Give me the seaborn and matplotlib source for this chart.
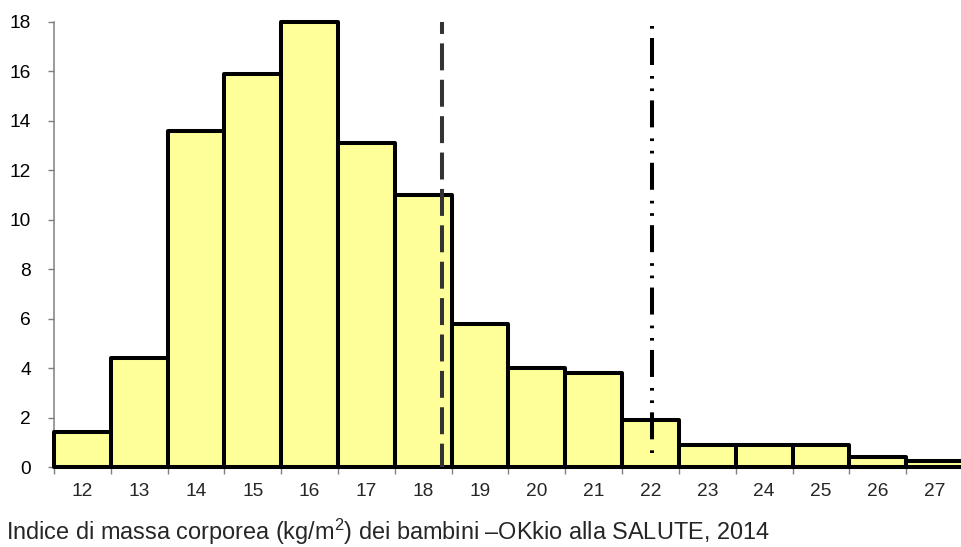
import matplotlib
matplotlib.use("Agg")
import matplotlib.pyplot as plt
import seaborn as sns
import pandas as pd
from matplotlib import font_manager

# ---- data ----
bmi_classes = ["12", "13", "14", "15", "16", "17", "18", "19", "20",
               "21", "22", "23", "24", "25", "26", "27"]
percent = [1.4, 4.4, 13.6, 15.9, 18.0, 13.1, 11.0, 5.8, 4.0,
           3.8, 1.9, 0.9, 0.9, 0.9, 0.4, 0.25]
y_ticks = [0, 2, 4, 6, 8, 10, 12, 14, 16, 18]
overweight_cutoff = 18.33   # BMI value of dashed line
obese_cutoff = 22.02        # BMI value of dash-dot line
title = "Indice di massa corporea (kg/m$^2$) dei bambini \u2013OKkio alla SALUTE, 2014"

sns.set_style("white")
plt.rcParams["font.family"] = ["Liberation Sans", "DejaVu Sans"]
plt.rcParams["lines.scale_dashes"] = False
plt.rcParams["mathtext.fontset"] = "custom"

names = {f.name for f in font_manager.fontManager.ttflist}
narrow = "Liberation Sans Narrow" in names
plt.rcParams["mathtext.rm"] = "Liberation Sans Narrow" if narrow else "Liberation Sans"

fig = plt.figure(figsize=(9.61, 5.47), dpi=100)
ax = fig.add_axes([54 / 961, 80 / 547, 909 / 961, 445 / 547])

df = pd.DataFrame({"bmi": bmi_classes, "pct": percent})
sns.barplot(data=df, x="bmi", y="pct", order=bmi_classes, color="#FFFF99",
            saturation=1, width=1, edgecolor="black", linewidth=2.9, ax=ax,
            errorbar=None)
for p in ax.patches:
    p.set_clip_on(False)
    p.set_joinstyle("round")
    p.set_zorder(3)

ax.set_xlim(-0.5, len(bmi_classes) - 0.5)
ax.set_ylim(0, 18)

first = float(bmi_classes[0])
ax.plot([overweight_cutoff - first] * 2, [18, 0], color="#333333", lw=2.9,
        linestyle=(10.8, (19.4, 6.8)), zorder=5, clip_on=False)
ax.plot([obese_cutoff - first] * 2, [17.85, 0.45], color="black", lw=2.9,
        linestyle=(0, (1.94, 6.7, 19.44, 7.92, 1.94, 6.98)), zorder=5,
        clip_on=False)

for s in ["top", "right", "bottom"]:
    ax.spines[s].set_visible(False)
ax.spines["left"].set_color("#808080")
ax.spines["left"].set_linewidth(1.1)

ax.set_yticks(y_ticks)
ax.set_yticklabels([str(v) for v in y_ticks], fontsize=13.8)
ax.tick_params(axis="y", length=4.3, width=1, color="#808080", pad=12.5,
               left=True, labelcolor="black")

ax.set_xticks([i - 0.5 for i in range(len(bmi_classes) + 1)])
ax.set_xticklabels([])
ax.set_xticks(range(len(bmi_classes)), minor=True)
ax.set_xticklabels(bmi_classes, minor=True, fontsize=13.8)
ax.tick_params(axis="x", which="major", length=5, width=1, color="#808080",
               bottom=True, direction="out")
ax.tick_params(axis="x", which="minor", length=0, pad=11.5, bottom=True)
ax.set_xlabel("")
ax.set_ylabel("")

if narrow:
    fig.text(7 / 961, 7 / 547, title, fontsize=20.3, va="baseline", ha="left",
             family=["Liberation Sans Narrow", "Liberation Sans"])
else:
    fig.text(6 / 961, 7 / 547, title, fontsize=16.9, va="baseline", ha="left")

fig.savefig("out.png", dpi=100)
